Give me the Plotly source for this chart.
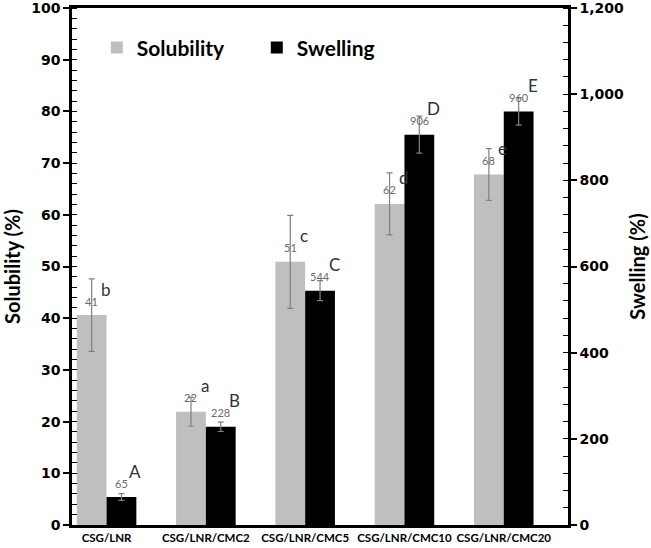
import plotly.graph_objects as go

categories = ["CSG/LNR", "CSG/LNR/CMC2", "CSG/LNR/CMC5", "CSG/LNR/CMC10", "CSG/LNR/CMC20"]
solubility = [40.6, 21.9, 50.9, 62.1, 67.8]
solubility_err = [7.0, 2.8, 9.0, 6.0, 5.0]
solubility_labels = ["41", "22", "51", "62", "68"]
solubility_letters = ["b", "a", "c", "d", "e"]
swelling = [65, 228, 544, 906, 960]
swelling_err = [8, 11, 23, 43, 32]
swelling_labels = ["65", "228", "544", "906", "960"]
swelling_letters = ["A", "B", "C", "D", "E"]

FONT = "Lato"
TICKFONT = "DejaVu Sans"
GREY = "#bfbfbf"
ERR = "#808080"

xi = list(range(len(categories)))

fig = go.Figure()
fig.add_trace(go.Bar(
    x=xi, y=solubility, name="Solubility", offsetgroup="1",
    marker=dict(color=GREY, line=dict(width=0)),
    error_y=dict(type="data", array=solubility_err, color=ERR, thickness=1.2, width=3),
    yaxis="y",
))
fig.add_trace(go.Bar(
    x=xi, y=swelling, name="Swelling", offsetgroup="2",
    marker=dict(color="#000000", line=dict(width=0)),
    error_y=dict(type="data", array=swelling_err, color=ERR, thickness=1.2, width=3),
    yaxis="y2",
))

anns = []
for i in xi:
    for val, lab, let, ref, dx in [
        (solubility[i], solubility_labels[i], solubility_letters[i], "y", -0.15),
        (swelling[i], swelling_labels[i], swelling_letters[i], "y2", 0.15),
    ]:
        anns.append(dict(x=i + dx, y=val, xref="x", yref=ref, text=lab, showarrow=False,
                         yshift=14, xanchor="center", yanchor="middle",
                         font=dict(family=FONT, size=11, color="#6a6a6a")))
        anns.append(dict(x=i + dx, y=val, xref="x", yref=ref, text=let, showarrow=False,
                         xshift=14, yshift=26, xanchor="center", yanchor="middle",
                         font=dict(family=FONT, size=17, color="#333333")))

fig.update_layout(
    width=651, height=548,
    margin=dict(l=72, r=83, t=8, b=23, autoexpand=False),
    paper_bgcolor="white", plot_bgcolor="white",
    barmode="group", bargap=0.4, bargroupgap=0,
    font=dict(family=FONT, color="black"),
    showlegend=True,
    legend=dict(orientation="h", x=0.05, y=0.923, xanchor="left", yanchor="middle",
                font=dict(family=FONT, size=21, color="black", weight="bold"),
                bgcolor="rgba(0,0,0,0)", itemwidth=30, entrywidth=115, entrywidthmode="pixels"),
    xaxis=dict(
        tickmode="array", tickvals=xi, ticktext=categories, tickangle=0, automargin=False,
        range=[-0.348, 4.647], showgrid=False, zeroline=False,
        showline=True, linecolor="black", linewidth=2.5, mirror=True,
        ticks="", tickfont=dict(family=FONT, size=11.5, color="black", weight="bold"),
        ticklabeloverflow="allow",
    ),
    yaxis=dict(
        range=[0, 100], dtick=10, showgrid=False, zeroline=False, automargin=False,
        showline=True, linecolor="black", linewidth=2.5,
        ticks="outside", ticklen=6, tickwidth=1.5, tickcolor="black",
        minor=dict(dtick=2, ticks="inside", ticklen=5, tickwidth=1, tickcolor="black"),
        tickfont=dict(family=TICKFONT, size=14, color="black", weight="bold"),
        ticklabeloverflow="allow",
        title=dict(text="Solubility (%)", standoff=12,
                   font=dict(family=FONT, size=20, color="black", weight="bold")),
    ),
    yaxis2=dict(
        overlaying="y", side="right", range=[0, 1200], dtick=200, tickformat=",d",
        showgrid=False, zeroline=False, automargin=False,
        showline=True, linecolor="black", linewidth=2.5,
        ticks="outside", ticklen=6, tickwidth=1.5, tickcolor="black",
        minor=dict(dtick=40, ticks="inside", ticklen=5, tickwidth=1, tickcolor="black"),
        tickfont=dict(family=TICKFONT, size=14, color="black", weight="bold"),
        ticklabeloverflow="allow",
        title=dict(text="Swelling (%)", standoff=8,
                   font=dict(family=FONT, size=20, color="black", weight="bold")),
    ),
    annotations=anns,
)

fig.write_html("out.html", config={"displayModeBar": False},
               post_script="document.body.style.margin='0';")
